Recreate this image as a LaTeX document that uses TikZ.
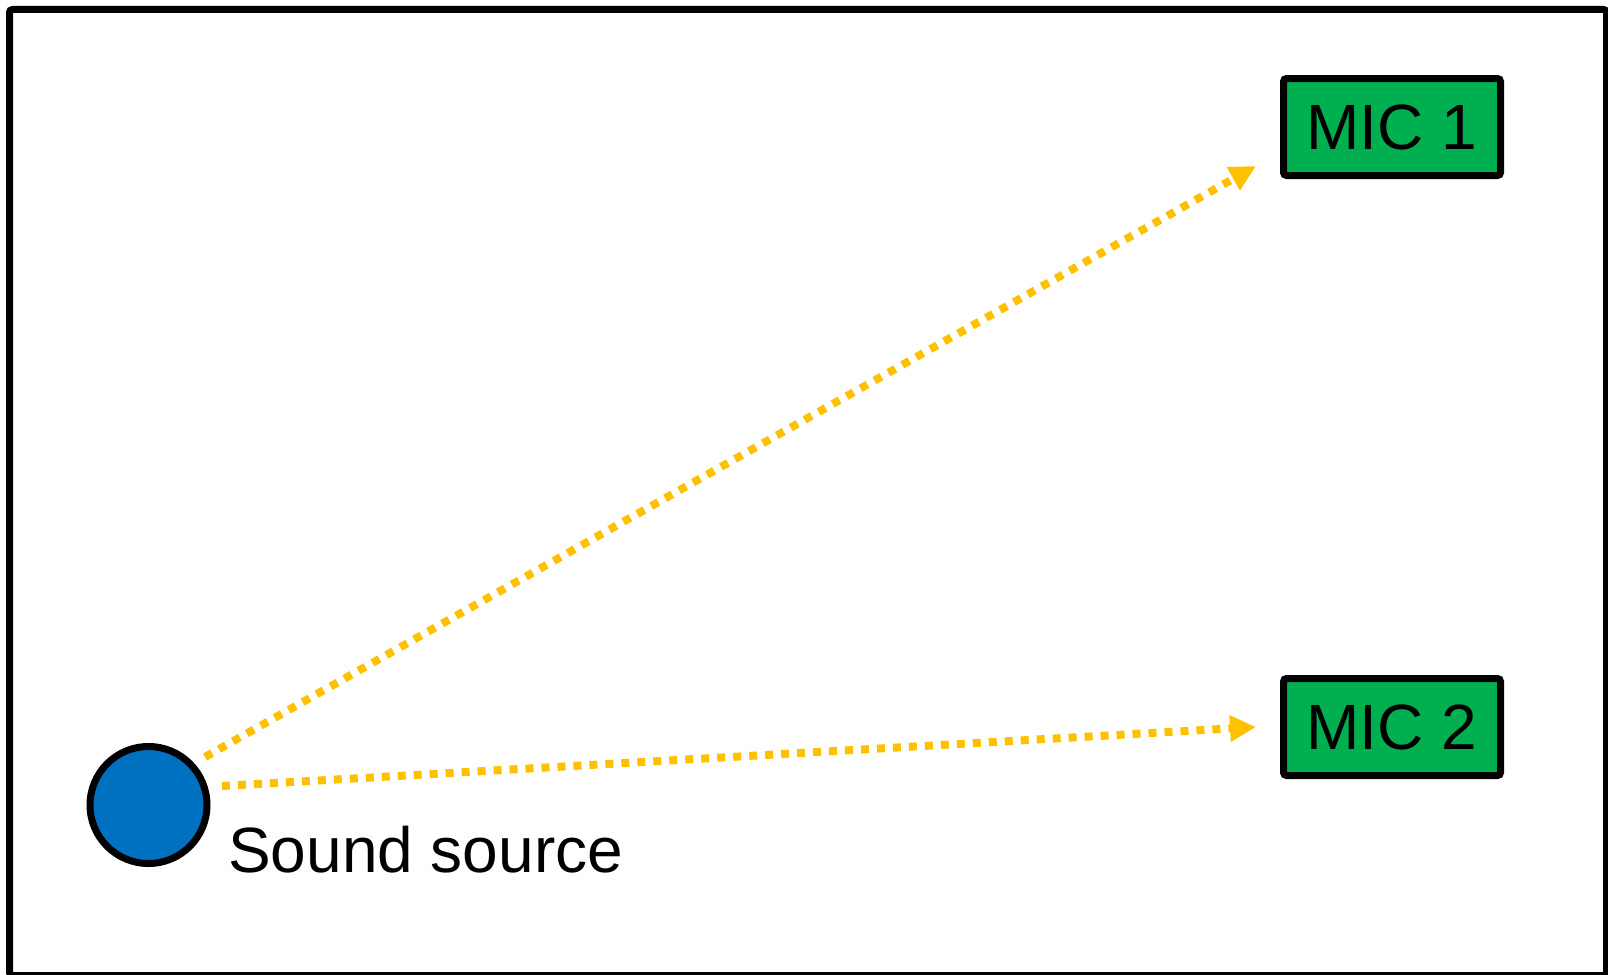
\documentclass[tikz,border=0pt]{standalone}
\usepackage{fontspec}
\setmainfont{Liberation Sans}
\usetikzlibrary{arrows.meta}
\definecolor{srcblue}{HTML}{0070C0}
\definecolor{micgreen}{HTML}{00B050}
\definecolor{wavegold}{HTML}{FFC000}
\begin{document}
\begin{tikzpicture}[x=1pt,y=-1pt,
  labelfont/.style={font=\fontsize{64}{76}\selectfont},
  micbox/.style={draw=black, line width=7pt, fill=micgreen, rounded corners=3pt,
    minimum width=217pt, minimum height=97pt, inner sep=0pt, labelfont},
  source/.style={circle, draw=black, line width=7pt, fill=srcblue,
    minimum size=117pt, inner sep=0pt},
  wave/.style={wavegold, line width=8pt, dash pattern=on 8pt off 8pt,
    -{Triangle[length=26pt,width=25pt]}}]
  \useasboundingbox (0,0) rectangle (1608,974);
  % outer frame
  \draw[line width=7pt, rounded corners=3pt] (9.5,9.5) rectangle (1606.5,975.5);
  % sound source and microphones
  \node[source] (src) at (148.5,805) {};
  \node[labelfont, anchor=base west, inner sep=0pt] (srclabel) at (228,872) {Sound source};
  \node[micbox] (mic1) at (1392,127) {MIC 1};
  \node[micbox] (mic2) at (1392,727) {MIC 2};
  % propagation paths
  \coordinate (p1s) at (205,757);
  \coordinate (p1e) at (1256,166);
  \coordinate (p2s) at (222,786);
  \coordinate (p2e) at (1256,727);
  \draw[wave] (p1s) -- (p1e);
  \draw[wave] (p2s) -- (p2e);
\end{tikzpicture}
\end{document}
